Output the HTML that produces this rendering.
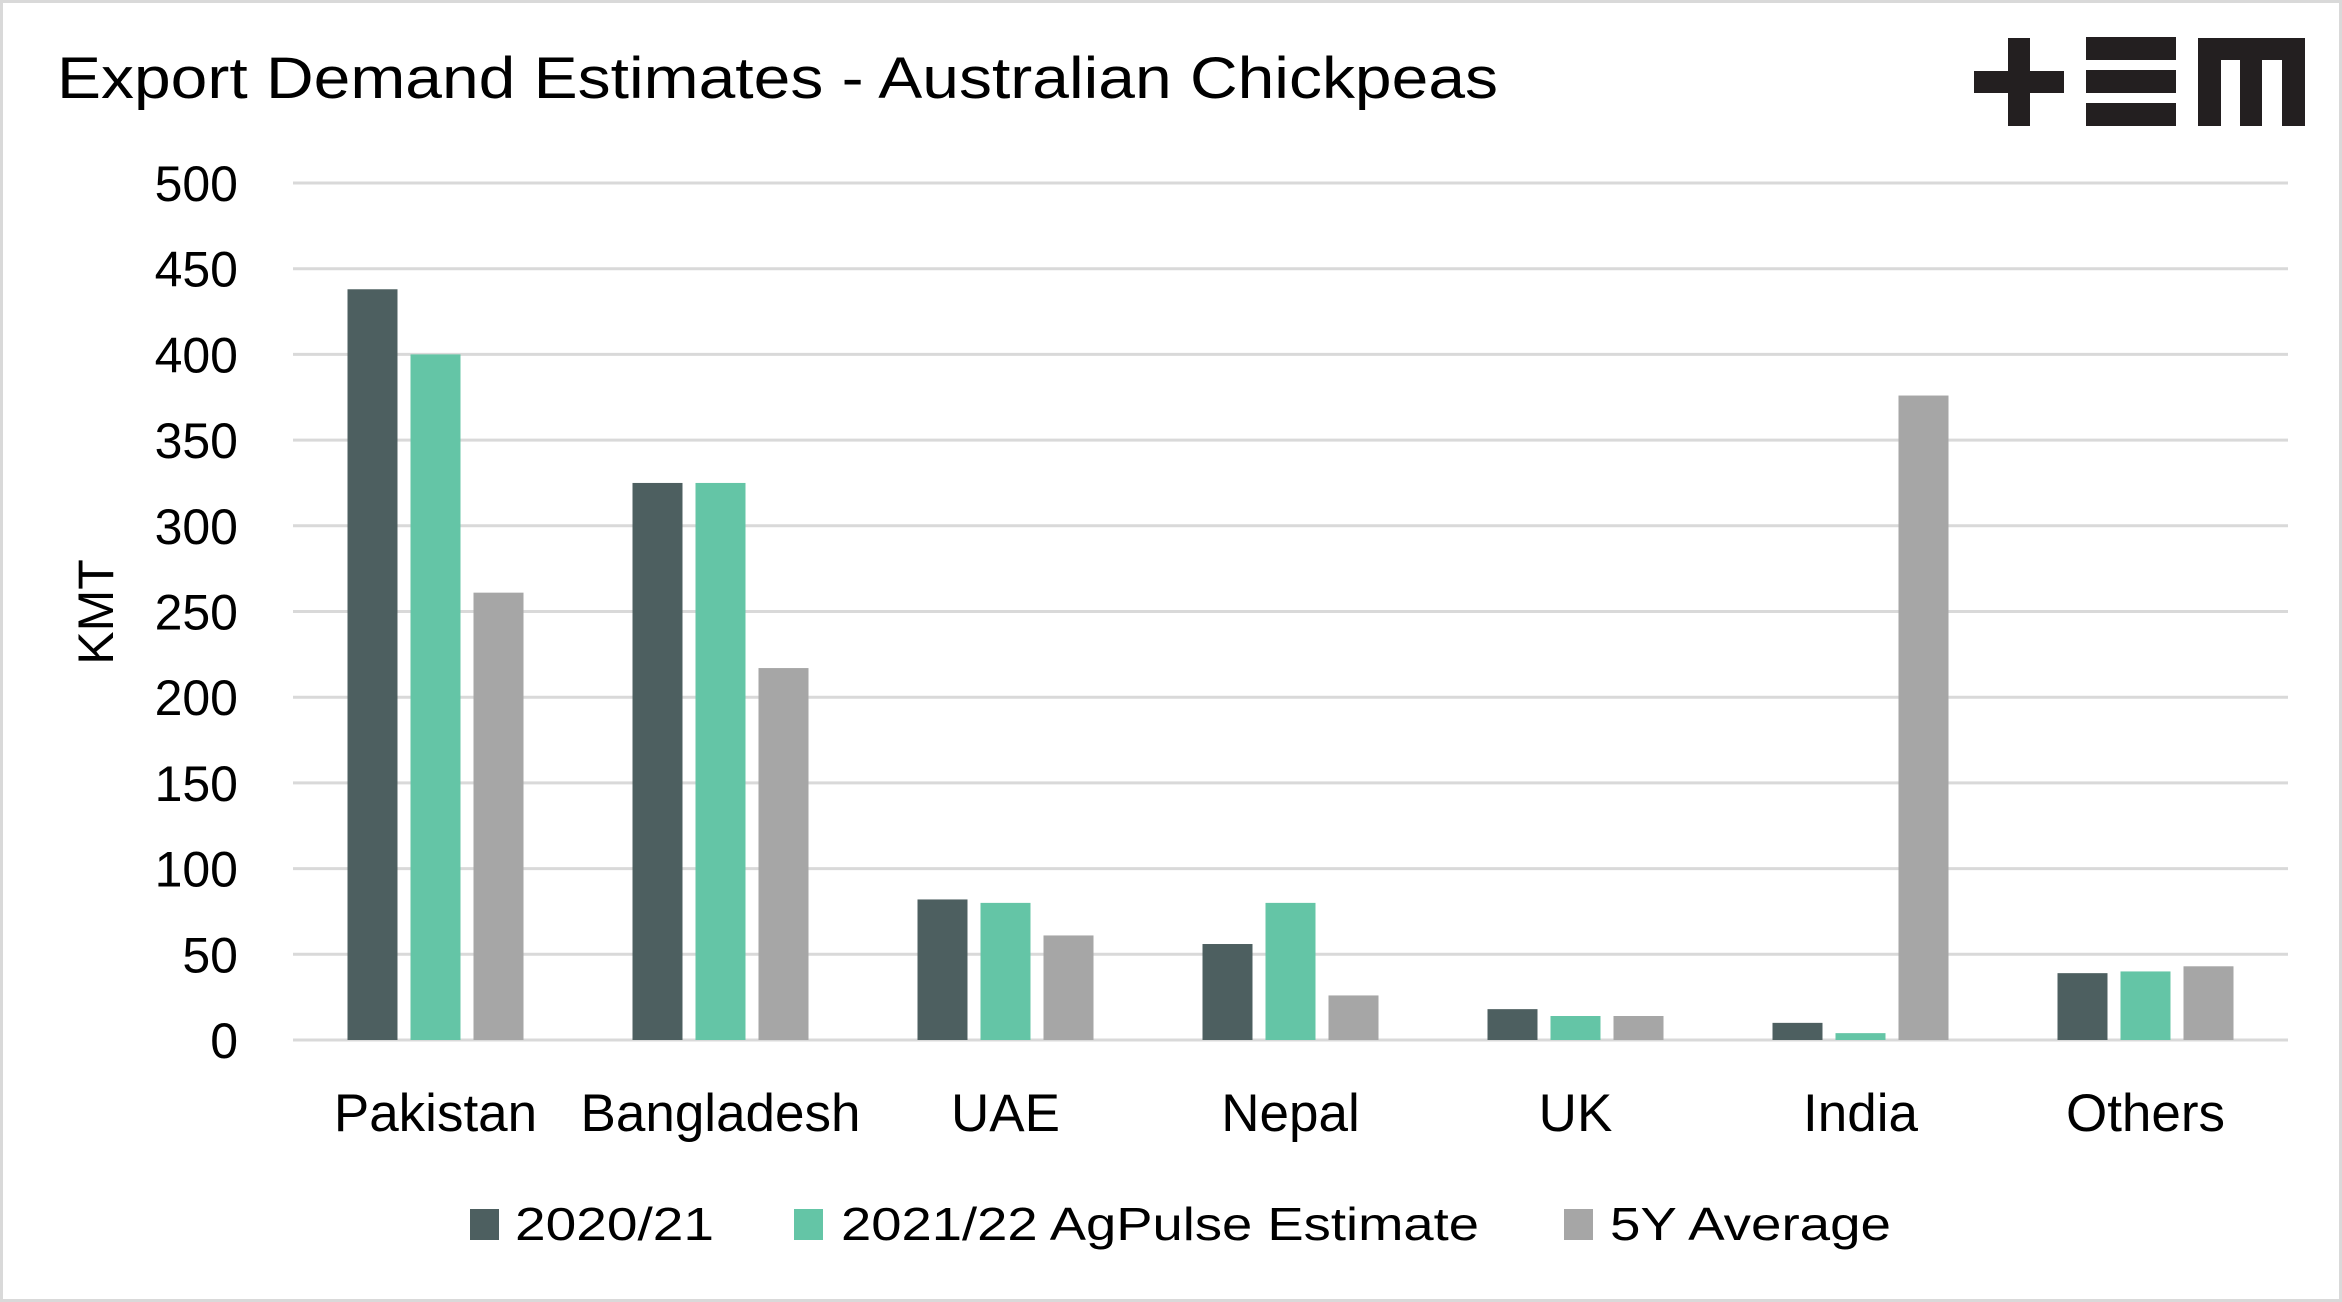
<!DOCTYPE html>
<html><head><meta charset="utf-8"><style>
html,body{margin:0;padding:0;background:#fff}
svg{display:block;font-family:"Liberation Sans",Arial,sans-serif}
</style></head><body>
<svg id="chart" width="2342" height="1302" viewBox="0 0 2342 1302" xmlns="http://www.w3.org/2000/svg">
<rect x="1.5" y="1.5" width="2339" height="1299" fill="#fff" stroke="#d9d9d9" stroke-width="3"/>
<text x="57" y="98" font-size="58" fill="#000" textLength="1441" lengthAdjust="spacingAndGlyphs">Export Demand Estimates - Australian Chickpeas</text>
<g fill="#231f20">
<rect x="2008" y="38" width="22" height="88"/><rect x="1974" y="71" width="90" height="22"/>
<rect x="2086" y="37" width="90" height="23"/><rect x="2086" y="70" width="90" height="23"/><rect x="2086" y="103" width="90" height="23"/>
<rect x="2198" y="38" width="107" height="22"/><rect x="2198" y="38" width="23" height="88"/><rect x="2240" y="38" width="22" height="88"/><rect x="2282" y="38" width="23" height="88"/>
</g>
<text transform="translate(113,612) rotate(-90)" text-anchor="middle" font-size="50" fill="#000">KMT</text>
<g id="grid"></g><g id="bars"></g><g id="labels"></g>
<g>
<rect x="470" y="1209" width="29" height="31" fill="#4d5f60"/>
<text x="515" y="1240" font-size="46" textLength="199" lengthAdjust="spacingAndGlyphs">2020/21</text>
<rect x="794" y="1209" width="29" height="31" fill="#64c5a6"/>
<text x="841" y="1240" font-size="46" textLength="638" lengthAdjust="spacingAndGlyphs">2021/22 AgPulse Estimate</text>
<rect x="1564" y="1209" width="29" height="31" fill="#a6a6a6"/>
<text x="1610" y="1240" font-size="46" textLength="281" lengthAdjust="spacingAndGlyphs">5Y Average</text>
</g>
</svg>
<script>
const categories=["Pakistan","Bangladesh","UAE","Nepal","UK","India","Others"];
const s2021=[438,325,82,56,18,10,39];
const s2022=[400,325,80,80,14,4,40];
const s5y=[261,217,61,26,14,376,43];
const yTicks=[0,50,100,150,200,250,300,350,400,450,500];
const NS="http://www.w3.org/2000/svg";
const X0=293,X1=2288,Y0=1040,Y1=183,YMAX=500;
const y=v=>Y0-(v/YMAX)*(Y0-Y1);
const band=(X1-X0)/categories.length;
const cx=i=>X0+band*(i+0.5);
function mk(t,a){const e=document.createElementNS(NS,t);for(const k in a)e.setAttribute(k,a[k]);return e;}
const grid=document.getElementById('grid'),bars=document.getElementById('bars'),labels=document.getElementById('labels');
yTicks.forEach(t=>{
 const l=mk('line',{x1:X0,x2:X1,y1:y(t),y2:y(t),stroke:'#d9d9d9','stroke-width':3});
 
 
 grid.appendChild(l);
 const tx=mk('text',{x:238,y:y(t)+18,'text-anchor':'end','font-size':50});
 tx.textContent=t;
 
 
 labels.appendChild(tx);
});
const series=[[s2021,'#4d5f60','2020-21'],[s2022,'#64c5a6','2021-22'],[s5y,'#a6a6a6','5y-avg']];
const bw=50,step=63;
categories.forEach((c,i)=>{
 series.forEach((s,j)=>{
  const v=s[0][i];
  const r=mk('rect',{x:cx(i)+(j-1)*step-bw/2,y:y(v),width:bw,height:Y0-y(v),fill:s[1]});
  
  
  bars.appendChild(r);
 });
 const t=mk('text',{x:cx(i),y:1131,'text-anchor':'middle','font-size':53});
 t.textContent=c;
 
 
 labels.appendChild(t);
});
</script>
</body></html>
